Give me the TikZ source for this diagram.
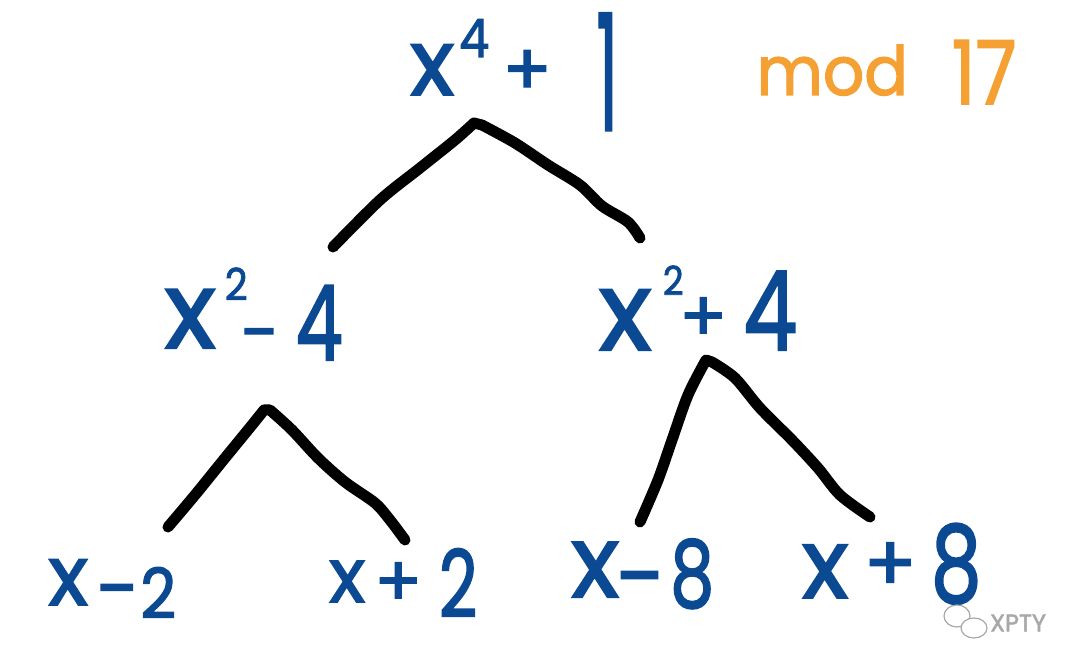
\documentclass[tikz,border=0pt]{standalone}
\usepackage{fontspec}
\setmainfont{Poppins}[FakeBold=2]
\definecolor{ink}{HTML}{0B4A93}
\definecolor{orng}{HTML}{F5A033}
\definecolor{wm}{HTML}{A8A8A8}
\newcommand{\fs}[2]{{\fontsize{#1}{#1}\selectfont #2}}
% glyph: distance from previous centre, raise, size, horizontal scale, text
\newcommand{\gl}[5]{\hspace*{#1pt}\makebox[0pt][c]{\raisebox{#2pt}{\scalebox{#4}[1]{\fs{#3}{#5}}}}}
\begin{document}
\begin{tikzpicture}[x=1pt,y=-1pt,
  expr/.style={text=ink,inner sep=0pt,anchor=base west,text depth=0pt},
  branch/.style={line width=11pt,line cap=round,line join=round,black}]
\useasboundingbox (0,0) rectangle (1080,668);
% expressions (node at left edge / baseline)
\node[expr] (root) at (408,95)
  {\gl{24}{0}{92}{1}{x}\gl{42}{38}{53}{0.9}{4}\gl{53}{0}{72}{1}{+}\gl{80}{-35}{161}{0.42}{1}\hspace*{8pt}};
\node[expr,text=orng] (mod) at (762,95)
  {\gl{70}{0}{68}{0.95}{mod}\gl{152}{-9}{88}{0.85}{17}\hspace*{33pt}};
\node[expr] (l) at (165,348)
  {\gl{25}{0}{107}{1}{x}\gl{46}{48}{44}{0.9}{2}\gl{24}{-9}{70}{1}{-}\gl{59}{-12}{104}{0.72}{4}\hspace*{21pt}};
\node[expr] (r) at (600,350)
  {\gl{25}{0}{110}{1}{x}\gl{48}{55}{40}{0.9}{2}\gl{30}{9}{70}{1}{+}\gl{67}{0}{110}{0.78}{4}\hspace*{27pt}};
\node[expr] (ll) at (47,605)
  {\gl{21}{0}{83}{1}{x}\gl{50}{-11}{78}{1}{-}\gl{40}{-13}{69}{0.9}{2}\hspace*{19pt}};
\node[expr] (lr) at (328,602)
  {\gl{19}{0}{75}{1}{x}\gl{51}{-4}{70}{1}{+}\gl{60}{-15}{93}{0.72}{2}\hspace*{20pt}};
\node[expr] (rl) at (568,597)
  {\gl{27}{0}{100}{1}{x}\gl{46}{-11}{90}{1}{-}\gl{51}{-10}{93}{0.75}{8}\hspace*{21pt}};
\node[expr] (rr) at (797,598)
  {\gl{28}{0}{97}{1}{x}\gl{65}{7}{78}{1}{+}\gl{66}{-4}{107}{0.75}{8}\hspace*{24pt}};
% branch end points
\coordinate (root-top) at (474,123);
\coordinate (root-l) at (333,247);
\coordinate (root-r) at (640,238);
\coordinate (l-top) at (264,410);
\coordinate (l-l) at (168,527);
\coordinate (l-r) at (405,540);
\coordinate (r-top) at (706,360);
\coordinate (r-l) at (640,522);
\coordinate (r-r) at (870,517);
% branches
\draw[branch] plot[smooth,tension=0.5] coordinates {(root-l) (380,200) (420,168) (455,140) (root-top)}
  -- (482,125) plot[smooth,tension=0.5] coordinates {(482,125) (515,143) (548,165) (580,185) (602,206) (628,222) (root-r)};
\draw[branch] plot[smooth,tension=0.5] coordinates {(l-l) (195,495) (225,458) (252,425) (l-top)}
  -- (270,410) plot[smooth,tension=0.5] coordinates {(270,410) (292,430) (318,458) (345,482) (375,503) (390,520) (l-r)};
\draw[branch] plot[smooth,tension=0.5] coordinates {(r-l) (658,480) (672,440) (688,395) (r-top)}
  -- (712,362) plot[smooth,tension=0.5] coordinates {(712,362) (735,378) (760,408) (792,440) (818,468) (840,495) (r-r)};
% watermark
\draw[wm,fill=white,line width=1.2pt] (957,616) ellipse (13pt and 11pt);
\draw[wm,fill=white,line width=1.2pt] (974,628) ellipse (13pt and 10pt);
\node[text=wm,inner sep=0pt,anchor=west] (wmark) at (990,623) {\fs{24}{XPTY}};
\end{tikzpicture}
\end{document}
